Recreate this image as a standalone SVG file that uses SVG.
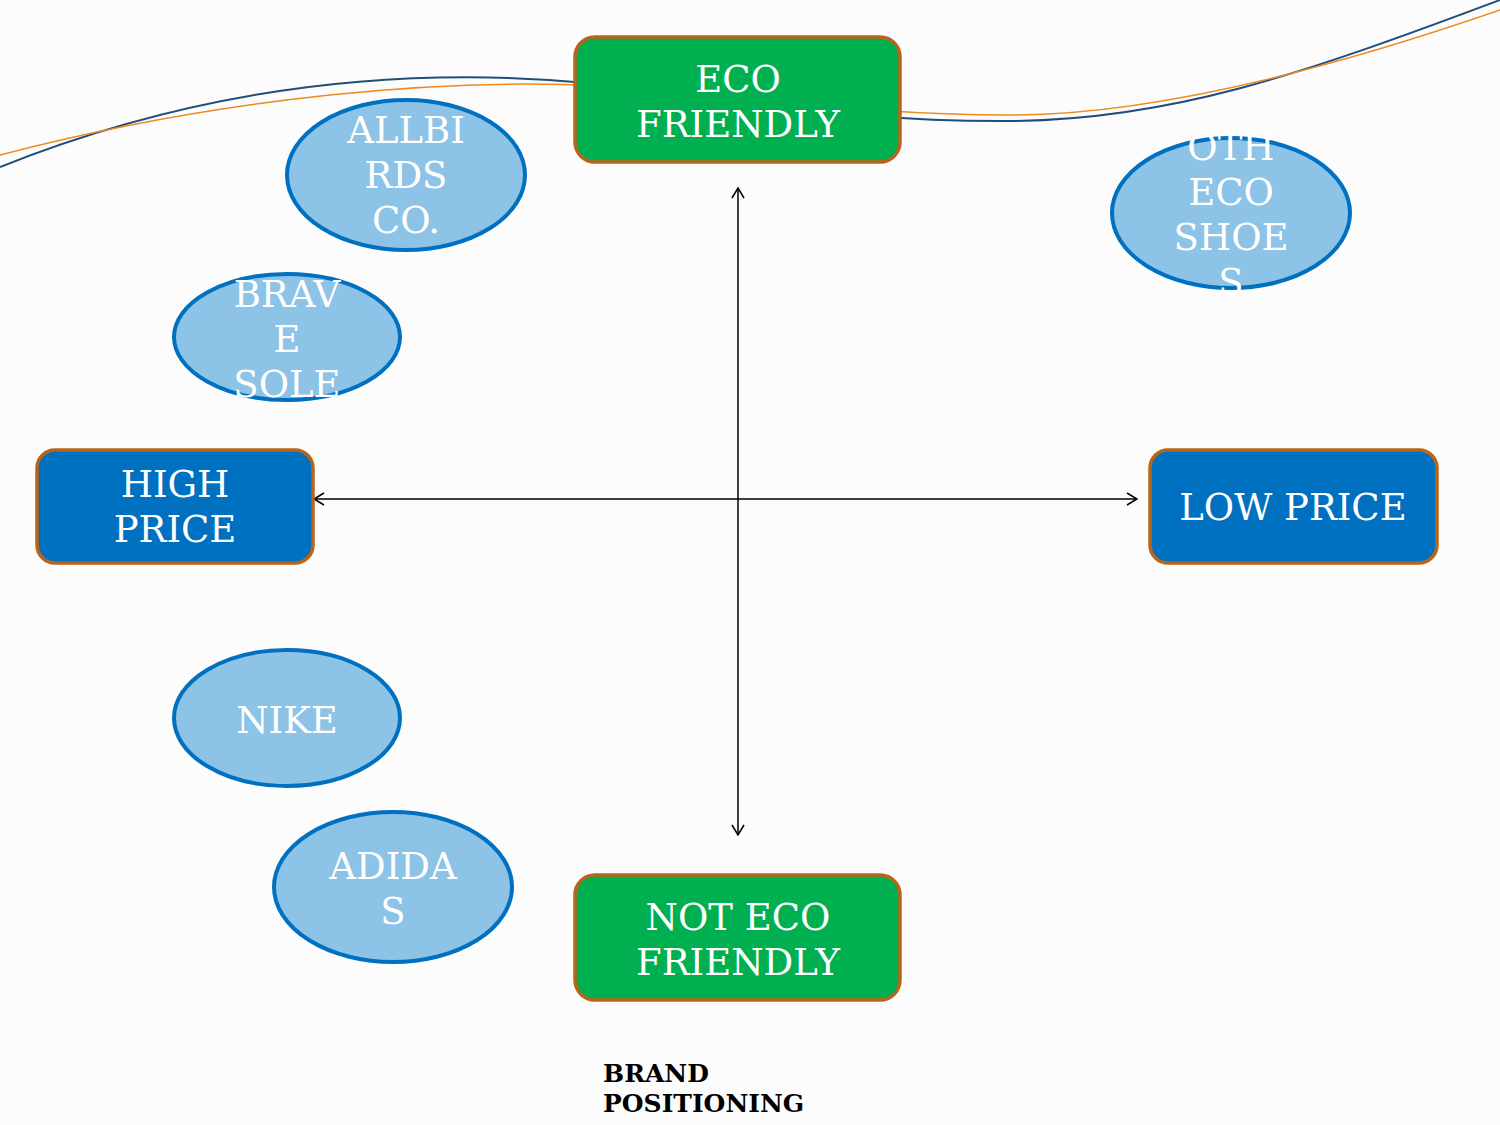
<svg xmlns="http://www.w3.org/2000/svg" width="1500" height="1125" viewBox="0 0 1500 1125">
<defs>
<style>
.bg{fill:#fcfcfc}
.box{stroke:#b8641a;stroke-width:3.5}
.green{fill:#00b050}
.blue{fill:#0070c0}
.ell{fill:#8cc3e6;stroke:#0070c0;stroke-width:4}
.t{font-family:"DejaVu Serif","Liberation Serif",serif;font-size:37px;fill:#ffffff;text-anchor:middle}
.cap{font-family:"DejaVu Serif","Liberation Serif",serif;font-size:25px;font-weight:bold;fill:#000000}
.axis{stroke:#000;stroke-width:1.5;fill:none}
</style>
<marker id="arr" viewBox="0 0 12 14" refX="11" refY="7" markerWidth="12" markerHeight="14" markerUnits="userSpaceOnUse" orient="auto-start-reverse">
<path d="M1,1 L11,7 L1,13" fill="none" stroke="#000" stroke-width="1.5"/>
</marker>
<filter id="sh" x="-10%" y="-10%" width="120%" height="120%">
<feGaussianBlur stdDeviation="3"/>
</filter>
</defs>
<rect class="bg" x="0" y="0" width="1500" height="1125"/>
<g id="curves">
<path d="M0,167 C230,75 440,68 600,84 S850,122 1010,121 S1300,75 1500,0" fill="none" stroke="#1f4e79" stroke-width="2"/>
<path d="M0,155 C230,95 450,78 600,86 S850,115 1010,115 S1370,55 1500,10" fill="none" stroke="#ee8a1e" stroke-width="1.5"/>
</g>
<g id="connectors">
<line x1="744" y1="192" x2="744" y2="834" stroke="#000" stroke-opacity="0.08" stroke-width="6" filter="url(#sh)"/>
<line x1="318" y1="504" x2="1135" y2="504" stroke="#000" stroke-opacity="0.08" stroke-width="6" filter="url(#sh)"/>
<line class="axis" x1="738" y1="188" x2="738" y2="835" marker-start="url(#arr)" marker-end="url(#arr)"/>
<line class="axis" x1="314" y1="499" x2="1137" y2="499" marker-start="url(#arr)" marker-end="url(#arr)"/>
</g>
<g id="eco-friendly">
<rect class="box green" x="575" y="37" width="325" height="125" rx="20"/>
<text class="t" x="738" y="92">ECO</text>
<text class="t" x="738" y="137">FRIENDLY</text>
</g>
<g id="not-eco-friendly">
<rect class="box green" x="575" y="875" width="325" height="125" rx="20"/>
<text class="t" x="738" y="930">NOT ECO</text>
<text class="t" x="738" y="975">FRIENDLY</text>
</g>
<g id="high-price">
<rect class="box blue" x="37" y="450" width="276" height="113" rx="18"/>
<text class="t" x="175" y="497">HIGH</text>
<text class="t" x="175" y="542">PRICE</text>
</g>
<g id="low-price">
<rect class="box blue" x="1150" y="450" width="287" height="113" rx="18"/>
<text class="t" x="1293" y="520">LOW PRICE</text>
</g>
<g id="allbirds">
<ellipse class="ell" cx="406" cy="175" rx="119" ry="75"/>
<text class="t" x="406" y="143">ALLBI</text>
<text class="t" x="406" y="188">RDS</text>
<text class="t" x="406" y="233">CO.</text>
</g>
<g id="other-eco-shoes">
<ellipse class="ell" cx="1231" cy="213" rx="119" ry="75"/>
<text class="t" x="1231" y="160">OTH</text>
<text class="t" x="1231" y="205">ECO</text>
<text class="t" x="1231" y="250">SHOE</text>
<text class="t" x="1231" y="295">S</text>
</g>
<g id="brave-sole">
<ellipse class="ell" cx="287" cy="337" rx="113" ry="63"/>
<text class="t" x="287" y="307">BRAV</text>
<text class="t" x="287" y="352">E</text>
<text class="t" x="287" y="397">SOLE</text>
</g>
<g id="nike">
<ellipse class="ell" cx="287" cy="718" rx="113" ry="68"/>
<text class="t" x="287" y="733">NIKE</text>
</g>
<g id="adidas">
<ellipse class="ell" cx="393" cy="887" rx="119" ry="75"/>
<text class="t" x="393" y="879">ADIDA</text>
<text class="t" x="393" y="924">S</text>
</g>
<g id="caption">
<text class="cap" x="603" y="1082">BRAND</text>
<text class="cap" x="603" y="1112">POSITIONING</text>
</g>
</svg>
